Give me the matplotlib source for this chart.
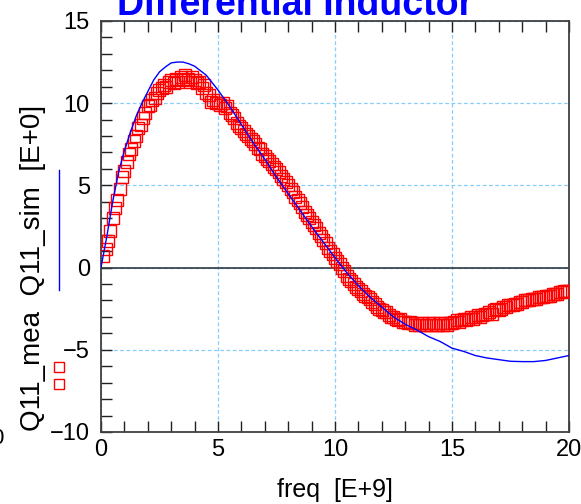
import numpy as np
import matplotlib
matplotlib.use("Agg")
import matplotlib.pyplot as plt
from matplotlib.lines import Line2D
from matplotlib.ticker import MultipleLocator

plt.rcParams['font.family'] = ['Liberation Sans', 'DejaVu Sans']

# simulated Q (blue line)
freq_sim = [0, 0.25, 0.5, 0.75, 1.0, 1.25, 1.5, 1.75, 2.0, 2.25, 2.5, 2.75,
            3.0, 3.25, 3.5, 3.75, 4.0, 4.5, 5.0, 5.5, 6.0, 6.5, 7.0, 7.5,
            8.0, 8.5, 9.0, 9.5, 10.0, 10.5, 11.0, 11.5, 12.0, 12.5, 13.0,
            13.5, 14.0, 14.5, 15.0, 15.5, 16.0, 16.5, 17.0, 17.5, 18.0,
            18.5, 19.0, 19.5, 20.0]
q_sim = [0.0, 1.9, 4.0, 5.8, 7.1, 8.2, 9.2, 10.0, 10.7, 11.4, 11.9, 12.2,
         12.45, 12.5, 12.5, 12.4, 12.25, 11.7, 10.8, 9.8, 8.7, 7.6, 6.6, 5.5,
         4.5, 3.5, 2.5, 1.55, 0.6, -0.3, -1.1, -1.8, -2.4, -3.0, -3.45,
         -3.8, -4.2, -4.5, -4.9, -5.1, -5.35, -5.5, -5.6, -5.7, -5.72,
         -5.72, -5.65, -5.5, -5.35]

# measured Q (red squares), 0.1 .. 20.0 GHz
freq_mea = np.round(np.arange(1, 201) * 0.1, 1)
q_mea = [
    0.7, 1.1, 1.6, 2.2, 3.0, 3.6, 4.1, 4.8, 5.5, 5.9,
    6.4, 6.9, 7.2, 7.7, 8.0, 8.5, 8.7, 9.1, 9.4, 9.8,
    9.9, 10.2, 10.3, 10.6, 10.8, 10.9, 11.1, 11.0, 11.3, 11.4,
    11.2, 11.5, 11.3, 11.6, 11.4, 11.7, 11.5, 11.3, 11.6, 11.4,
    11.2, 11.3, 10.9, 11.1, 10.6, 10.5, 10.1, 10.2, 10.0, 10.0,
    9.9, 10.0, 9.7, 9.8, 9.4, 9.3, 9.1, 8.8, 8.6, 8.5,
    8.3, 8.1, 8.0, 7.8, 7.7, 7.5, 7.3, 7.2, 6.9, 6.8,
    6.6, 6.5, 6.3, 6.1, 6.0, 5.8, 5.6, 5.4, 5.2, 5.0,
    4.8, 4.6, 4.3, 4.1, 3.9, 3.7, 3.4, 3.2, 3.0, 2.8,
    2.6, 2.4, 2.1, 1.9, 1.7, 1.5, 1.2, 1.0, 0.8, 0.6,
    0.4, 0.2, 0.0, -0.2, -0.5, -0.7, -0.8, -1.0, -1.2, -1.3,
    -1.4, -1.6, -1.7, -1.8, -1.9, -2.1, -2.2, -2.4, -2.5, -2.6,
    -2.7, -2.7, -2.9, -3.0, -3.0, -3.1, -3.2, -3.1, -3.3, -3.3,
    -3.4, -3.3, -3.4, -3.5, -3.4, -3.5, -3.4, -3.5, -3.5, -3.4,
    -3.5, -3.4, -3.5, -3.5, -3.4, -3.5, -3.4, -3.5, -3.4, -3.4,
    -3.3, -3.2, -3.3, -3.2, -3.1, -3.2, -3.1, -3.0, -3.1, -3.0,
    -2.9, -3.0, -2.9, -2.8, -2.8, -2.7, -2.8, -2.6, -2.5, -2.6,
    -2.5, -2.4, -2.4, -2.3, -2.3, -2.3, -2.2, -2.2, -2.1, -2.1,
    -2.0, -2.0, -2.0, -1.9, -1.9, -1.9, -1.8, -1.8, -1.8, -1.7,
    -1.7, -1.7, -1.6, -1.6, -1.6, -1.5, -1.5, -1.4, -1.4, -1.4,
]

fig = plt.figure(figsize=(5.81, 5.04), dpi=100)
ax = fig.add_axes([0.1738, 0.1429, 0.8055, 0.8155])

ax.plot(freq_mea, q_mea, ls='none', marker='s', ms=8.5, mfc='none',
        mec='#ff0000', mew=1.0, zorder=3)
ax.plot(freq_sim, q_sim, color='#0000ff', lw=1.0, zorder=4)

ax.set_xlim(0, 20)
ax.set_ylim(-10, 15)
ax.xaxis.set_major_locator(MultipleLocator(5))
ax.xaxis.set_minor_locator(MultipleLocator(1))
ax.yaxis.set_major_locator(MultipleLocator(5))
ax.yaxis.set_minor_locator(MultipleLocator(1))
ax.tick_params(which='both', direction='in', length=8, width=1.0,
               top=True, right=False, labelsize=17, color='#202020')
ax.tick_params(axis='x', pad=5)
ax.tick_params(axis='y', pad=8)

ax.grid(True, which='major', color='#87cefa', ls=(0, (3, 2)), lw=0.9)
ax.axhline(0, color='#303a40', lw=1.2, zorder=2)

for s in ax.spines.values():
    s.set_color('#404040')
    s.set_linewidth(1.3)

ax.set_xlabel('freq  [E+9]', fontsize=18, labelpad=12)

# y label with legend glyphs
fig.text(33 / 581, 1 - 268 / 504, 'Q11_mea  Q11_sim  [E+0]', rotation=90,
         fontsize=20, ha='center', va='center')
fig.add_artist(Line2D([59 / 581, 59 / 581], [1 - 170 / 504, 1 - 290 / 504],
                      color='#0000ff', lw=1.0))
fig.add_artist(Line2D([59 / 581, 59 / 581], [1 - 367 / 504, 1 - 384 / 504],
                      ls='none', marker='s', ms=7.5, mfc='none',
                      mec='#ff0000', mew=1.0))
fig.text(4 / 581, 1 - 438 / 504, '0', fontsize=16, ha='right', va='center')

fig.text(295 / 581, 1 - 15 / 504, 'Differential Inductor', fontsize=27,
         fontweight='bold', color='#0000ff', ha='center', va='baseline')

fig.savefig('out.png', dpi=100)
